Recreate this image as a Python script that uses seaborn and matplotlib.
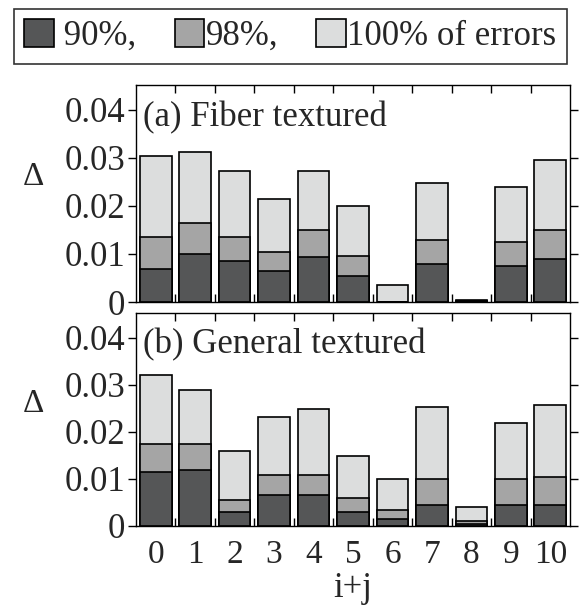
import matplotlib
matplotlib.use("Agg")
import matplotlib.pyplot as plt
from matplotlib.patches import Patch
from matplotlib.ticker import FixedLocator
import seaborn as sns
import pandas as pd

categories = ["0", "1", "2", "3", "4", "5", "6", "7", "8", "9", "10"]

# (a) Fiber textured
fiber_100 = [0.0305, 0.0312, 0.0273, 0.0215, 0.0272, 0.0200, 0.0035, 0.0248, 0.0004, 0.0240, 0.0295]
fiber_98 = [0.0135, 0.0165, 0.0135, 0.0105, 0.0150, 0.0095, 0.0, 0.0129, 0.0003, 0.0125, 0.0150]
fiber_90 = [0.0069, 0.0100, 0.0085, 0.0065, 0.0094, 0.0054, 0.0, 0.0079, 0.0002, 0.0075, 0.0089]

# (b) General textured
general_100 = [0.0321, 0.0288, 0.0159, 0.0231, 0.0248, 0.0149, 0.0099, 0.0253, 0.0040, 0.0218, 0.0257]
general_98 = [0.0174, 0.0174, 0.0055, 0.0108, 0.0108, 0.0060, 0.0035, 0.0100, 0.0010, 0.0100, 0.0104]
general_90 = [0.0114, 0.0118, 0.0030, 0.0065, 0.0065, 0.0030, 0.0015, 0.0045, 0.0005, 0.0045, 0.0045]

yticks = [0, 0.01, 0.02, 0.03, 0.04]
ytick_labels = ["0", "0.01", "0.02", "0.03", "0.04"]
legend_labels = [" 90%,", "98%,", "100% of errors"]
titles = ["(a) Fiber textured", "(b) General textured"]
xlabel = "i+j"
ylabel = "\u0394"

c_dark = "#555657"
c_mid = "#a5a5a5"
c_light = "#dcdddd"

sns.set_theme(style="white")
plt.rcParams["font.family"] = ["Liberation Serif", "DejaVu Serif"]

W, H = 579, 610
fig = plt.figure(figsize=(W / 100, H / 100), dpi=100)
ax_top = fig.add_axes([136 / W, 1 - 302 / H, 434 / W, 217 / H])
ax_bot = fig.add_axes([136 / W, 1 - 526 / H, 434 / W, 213 / H])

panels = [
    (ax_top, fiber_100, fiber_98, fiber_90, titles[0], 177),
    (ax_bot, general_100, general_98, general_90, titles[1], 404),
]

for ax, v100, v98, v90, title, dy in panels:
    for vals, col in [(v100, c_light), (v98, c_mid), (v90, c_dark)]:
        df = pd.DataFrame({"cat": categories, "val": vals})
        sns.barplot(data=df, x="cat", y="val", order=categories, color=col,
                    saturation=1, edgecolor="black", linewidth=1.2,
                    width=0.8, ax=ax)
    ax.set_xlim(-0.5, 10.5)
    ax.set_ylim(0, 0.0452)
    ax.set_yticks(yticks)
    ax.set_yticklabels(ytick_labels, fontsize=25)
    ax.set_ylabel("")
    ax.set_xlabel("")
    ax.xaxis.set_minor_locator(FixedLocator([i + 0.5 for i in range(10)]))
    ax.tick_params(axis="x", which="major", length=0, labelsize=24, pad=10)
    ax.tick_params(axis="x", which="minor", direction="in", length=5.5,
                   width=1.0, top=True, bottom=True, color="black")
    ax.tick_params(axis="y", which="major", direction="out", length=5.5,
                   width=1.0, left=True, right=True, color="black", pad=2.5)
    for s in ax.spines.values():
        s.set_color("black")
        s.set_linewidth(1.0)
        s.set_visible(True)
    ax.text(0.016, 0.81, title, transform=ax.transAxes, fontsize=25,
            va="baseline", ha="left")
    fig.text(33 / W, 1 - dy / H, ylabel, fontsize=24, ha="center", va="center")

ax_top.set_xticklabels([])
ax_bot.set_xlabel(xlabel, fontsize=25, labelpad=1)

handles = [
    Patch(facecolor=c_dark, edgecolor="black", linewidth=1.2),
    Patch(facecolor=c_mid, edgecolor="black", linewidth=1.2),
    Patch(facecolor=c_light, edgecolor="black", linewidth=1.2),
]
leg = fig.legend(handles, legend_labels, ncol=3, loc="upper left",
                 bbox_to_anchor=(14 / W, 1 - 9 / H),
                 frameon=True, fancybox=False, fontsize=25,
                 handlelength=0.84, handleheight=0.84, handletextpad=0.05,
                 columnspacing=1.1, borderpad=0.3, borderaxespad=0)
leg.get_frame().set_edgecolor("black")
leg.get_frame().set_linewidth(1.2)

fig.savefig("out.png", dpi=100)
